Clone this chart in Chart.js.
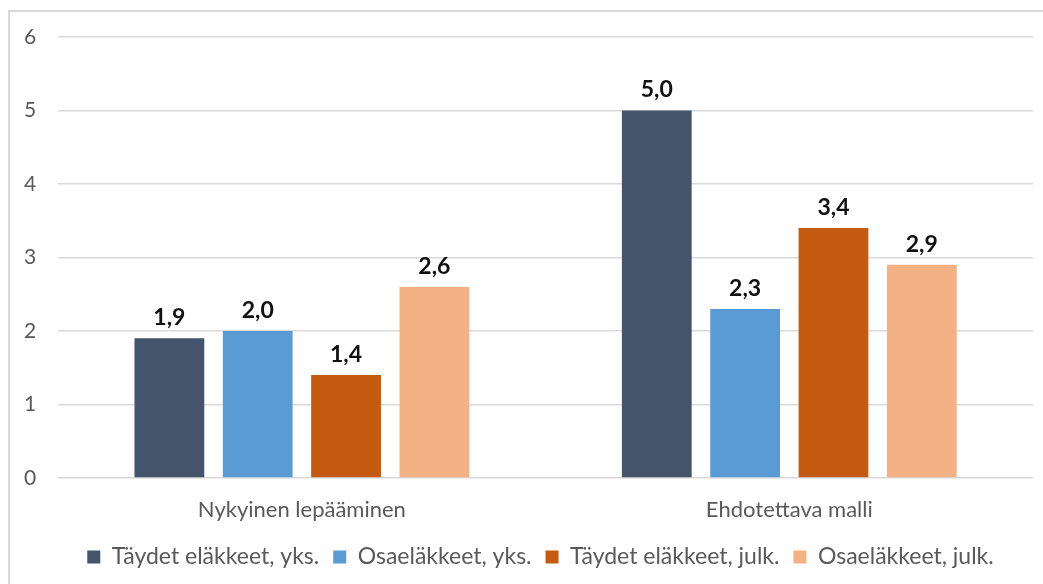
<!DOCTYPE html>
<html>
<head>
<meta charset="utf-8">
<script src="https://cdn.jsdelivr.net/npm/chart.js@4/dist/chart.umd.min.js"></script>
<style>
    html, body { margin: 0; padding: 0; background: #fff; overflow: hidden; }
    #frame {
        position: absolute; left: 8px; top: 10px; width: 1100px; height: 640px;
        border-top: 2px solid #d9d9d9; border-left: 2px solid #d9d9d9;
    }
    #wrap { position: absolute; left: 0; top: 0; width: 1043px; height: 584px; }
</style>
</head>
<body>
<div id="frame"></div>
<div id="wrap"><canvas id="chart" width="1043" height="584"></canvas></div>
<script>
const categories = ["Nykyinen lepääminen", "Ehdotettava malli"];
const seriesNames = ["Täydet eläkkeet, yks.", "Osaeläkkeet, yks.", "Täydet eläkkeet, julk.", "Osaeläkkeet, julk."];
const fullPrivate = [1.9, 5.0];
const partPrivate = [2.0, 2.3];
const fullPublic = [1.4, 3.4];
const partPublic = [2.6, 2.9];
const colors = ["#44546a", "#5b9bd5", "#c55a11", "#f4b183"];

const FONT = "Lato, 'Open Sans', sans-serif";

// draws the value above each bar, with a comma decimal
const valueLabels = {
    id: 'valueLabels',
    afterDatasetsDraw(chart) {
        const ctx = chart.ctx;
        ctx.save();
        ctx.font = "bold 23px " + FONT;
        ctx.fillStyle = "#111";
        ctx.textAlign = "center";
        ctx.textBaseline = "bottom";
        chart.data.datasets.forEach((ds, i) => {
            chart.getDatasetMeta(i).data.forEach((bar, j) => {
                const txt = ds.data[j].toFixed(1).replace('.', ',');
                ctx.fillText(txt, bar.x, bar.y - 9);
            });
        });
        ctx.restore();
    }
};

// the legend in the original sits a bit right of the canvas centre
const nudgeLegend = {
    id: 'nudgeLegend',
    afterLayout(chart) {
        if (!chart.legend) return;
        chart.legend.left += 23;
        chart.legend.right += 23;
    }
};

const allSeries = [fullPrivate, partPrivate, fullPublic, partPublic];

new Chart(document.getElementById("chart"), {
    type: 'bar',
    data: {
        labels: categories,
        datasets: allSeries.map((vals, i) => ({
            label: seriesNames[i],
            data: vals,
            backgroundColor: colors[i],
            categoryPercentage: 0.725,
            barPercentage: 0.79
        }))
    },
    options: {
        responsive: false,
        animation: false,
        layout: { padding: { left: 2, right: 10, top: 37, bottom: 5.5 } },
        plugins: {
            tooltip: { enabled: false },
            legend: {
                position: 'bottom',
                labels: {
                    font: { family: FONT, size: 23 },
                    color: "#595959",
                    usePointStyle: true,
                    pointStyle: 'rect',
                    boxWidth: 13,
                    boxHeight: 13,
                    padding: 14
                }
            }
        },
        scales: {
            x: {
                grid: { display: false },
                border: { display: false },
                ticks: { font: { family: FONT, size: 22 }, color: "#595959", padding: 11 },
                afterFit(scale) { scale.height = 53.5; }
            },
            y: {
                min: 0,
                max: 6,
                ticks: { stepSize: 1, font: { family: FONT, size: 21 }, color: "#595959", padding: 22 },
                grid: { color: "#d9d9d9", lineWidth: 1.5, drawTicks: false },
                border: { display: false }
            }
        }
    },
    plugins: [valueLabels, nudgeLegend]
});
</script>
</body>
</html>
